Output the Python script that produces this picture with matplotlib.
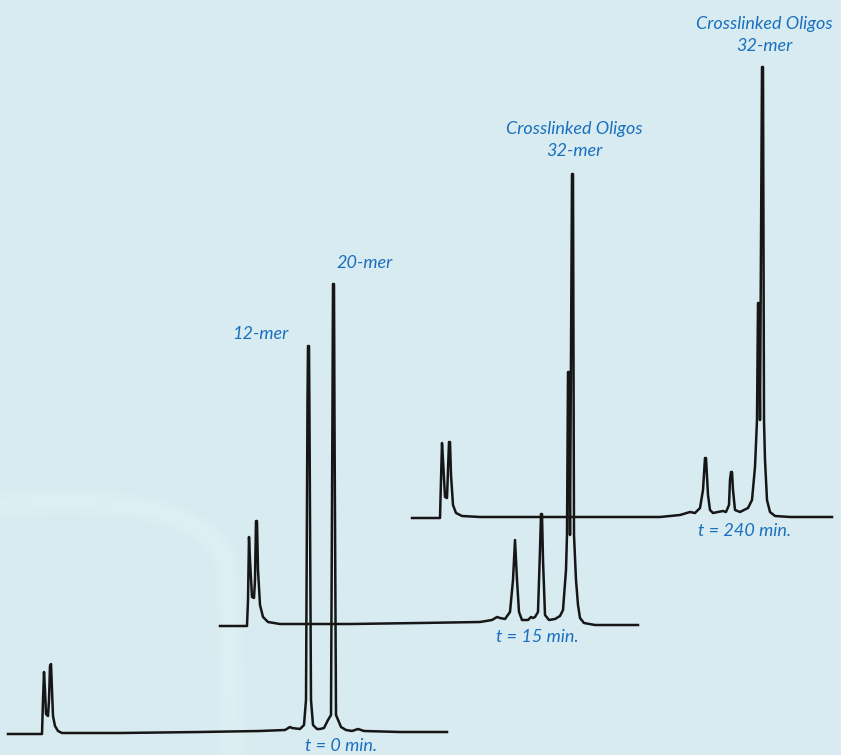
import numpy as np
import matplotlib
matplotlib.use('Agg')
import matplotlib.pyplot as plt
from matplotlib.path import Path
from matplotlib.patches import PathPatch

# retention position / signal height (picture px units)
t0_time = [0, 34, 35, 36, 37, 38, 40, 41, 42, 43, 44, 45, 47, 50, 54, 112, 192, 252, 277, 282,
           284, 292, 296, 298, 299.5, 300, 301, 301.5, 303, 305, 309, 312, 316, 319, 320, 323, 324.5, 325,
           326, 326.5, 328, 333, 338, 344, 350, 356, 392, 439]
t0_signal = [0, 0, 34, 62, 44, 20, 18, 34, 68, 70, 44, 18, 8, 3, 1, 1, 2, 3, 4, 7,
             6, 5, 9, 34, 334, 388, 388, 314, 34, 9, 5, 5, 6, 12, 14, 19, 334, 450,
             450, 314, 19, 7, 4, 3, 5, 3, 2, 2]

t15_time = [0, 27, 28, 29, 30, 32, 34, 35, 36, 37, 38, 40, 43, 48, 60, 130, 200, 260, 272, 277,
            280, 285, 290, 293, 295, 297, 299, 302, 308, 311, 313, 315, 318, 320, 321, 322, 323, 325,
            329, 335, 340, 343, 346, 347, 348, 349, 350, 352, 353, 354, 356, 358, 360, 364, 375, 418]
t15_signal = [0, 0, 26, 89, 66, 29, 28, 46, 105, 105, 56, 21, 9, 4, 2, 2, 3, 4, 6, 9,
              8, 7, 14, 46, 86, 46, 14, 6, 6, 9, 8, 9, 14, 76, 112, 112, 66, 11,
              6, 7, 10, 16, 56, 91, 254, 254, 91, 452, 452, 91, 46, 21, 8, 3, 1, 1]

t240_time = [0, 28, 29, 30, 31, 33, 35, 36, 37, 38, 39, 41, 44, 50, 68, 188, 248, 268, 278, 283,
             288, 291, 293, 294, 296, 298, 301, 306, 311, 314, 317, 318, 319, 320, 321, 323, 328,
             336, 340, 343, 345, 346, 347, 348, 350, 351, 352, 353, 355, 358, 363, 378, 420]
t240_signal = [0, 0, 38, 75, 58, 21, 20, 48, 76, 76, 43, 13, 5, 2, 1, 1, 1, 3, 6, 5,
               10, 28, 60, 60, 23, 8, 5, 6, 7, 6, 13, 38, 46, 46, 28, 8, 6,
               10, 18, 51, 98, 215, 215, 98, 451, 451, 98, 58, 18, 6, 2, 1, 1]

trace_labels = ["t = 0 min.", "t = 15 min.", "t = 240 min."]

BG = '#d8ebf0'
INK = '#161616'
BLUE = '#1a70bf'

fig = plt.figure(figsize=(8.41, 7.55), dpi=100)
fig.patch.set_facecolor(BG)
ax = fig.add_axes([0, 0, 1, 1])
ax.set_facecolor(BG)
ax.set_xlim(0, 841)
ax.set_ylim(755, 0)
ax.axis('off')

# faint lighter arc in the backdrop
verts = [(0, 505), (120, 498), (200, 505), (226, 560), (230, 600), (232, 680), (232, 760)]
codes = [Path.MOVETO, Path.CURVE4, Path.CURVE4, Path.CURVE4, Path.CURVE4, Path.CURVE4, Path.CURVE4]
for lw, a in [(18, 0.25), (10, 0.35)]:
    ax.add_patch(PathPatch(Path(verts, codes), fill=False, lw=lw, edgecolor='#e6f4f7',
                           alpha=a, zorder=0, capstyle='butt'))

# trace start (x) and baseline (y) on the page
offsets = [(8, 734), (220, 626), (412, 518)]
traces = [(t0_time, t0_signal), (t15_time, t15_signal), (t240_time, t240_signal)]

for (x0, base), (tt, ss) in zip(offsets, traces):
    x = x0 + np.array(tt, dtype=float)
    y = base - np.array(ss, dtype=float)
    ax.plot(x, y, color=INK, lw=1.8, solid_joinstyle='round', zorder=3)

font = dict(family=['Lato', 'DejaVu Sans'], style='italic', color=BLUE, fontsize=13)

ax.text(341, 746, trace_labels[0], ha='center', va='center', **font)
ax.text(537, 637, trace_labels[1], ha='center', va='center', **font)
ax.text(745, 531, trace_labels[2], ha='center', va='center', **font)

ax.text(260, 334, "12-mer", ha='center', va='center', **font)
ax.text(365, 263, "20-mer", ha='center', va='center', **font)
ax.text(574, 140, "Crosslinked Oligos\n32-mer", ha='center', va='center',
        linespacing=1.45, **font)
ax.text(764, 35, "Crosslinked Oligos\n32-mer", ha='center', va='center',
        linespacing=1.45, **font)

fig.savefig('out.png', dpi=100, facecolor=BG)
